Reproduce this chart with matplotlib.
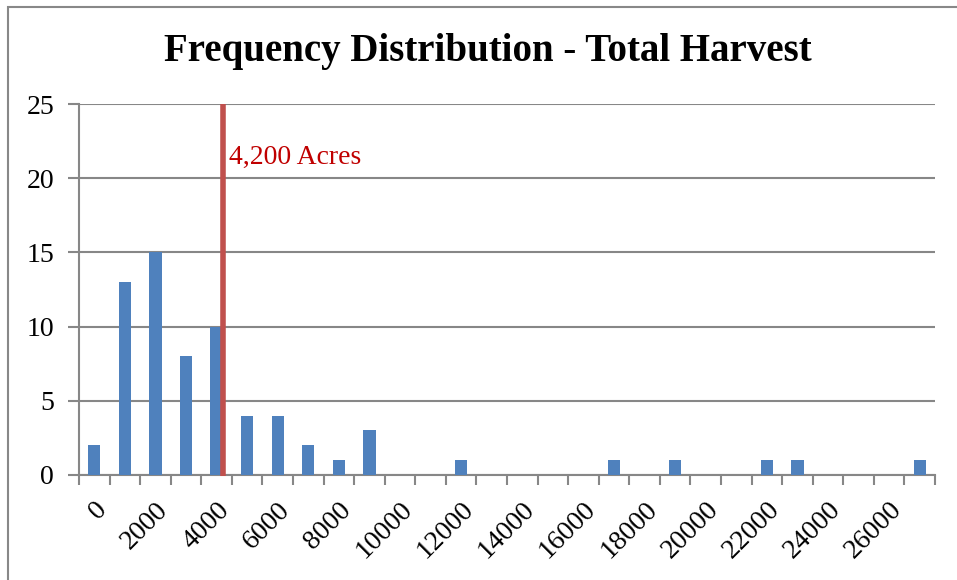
import numpy as np
import matplotlib
matplotlib.use("Agg")
import matplotlib.pyplot as plt
from matplotlib.patches import Rectangle

plt.rcParams['font.family'] = ['Liberation Serif', 'DejaVu Serif']

# bins of 1000 acres, 0 .. 27000
bins = [i * 1000 for i in range(28)]
counts = [2, 13, 15, 8, 10, 4, 4, 2, 1, 3, 0, 0, 1, 0, 0, 0, 0, 1, 0, 1, 0, 0, 1, 1, 0, 0, 0, 1]
tick_labels = [str(b) for b in bins[::2]]
marker_value = 4200
marker_label = "4,200 Acres"

fig = plt.figure(figsize=(9.57, 5.80), dpi=100)
ax = fig.add_axes([79 / 957, 1 - 475 / 580, (935 - 79) / 957, (475 - 104) / 580])

x = np.arange(len(bins))
ax.bar(x, counts, width=0.4, color='#4F81BD', zorder=3)

# marker line, in category units
mx = marker_value / 1000
ax.plot([mx, mx], [-0.1, 25], color='#C0504D', lw=4, zorder=4, solid_capstyle='butt',
        clip_on=False)
ax.text(mx + 0.2, 21.4, marker_label, color='#C00000', fontsize=20, va='center', ha='left')

ax.set_xlim(-0.5, len(bins) - 0.5)
ax.set_ylim(0, 25)
ax.set_yticks(range(0, 26, 5))
ax.yaxis.grid(True, color='#878787', lw=1.5, zorder=0)

ax.set_xticks(np.arange(-0.5, len(bins), 1))
ax.set_xticklabels([])
ax.set_xticks(x[::2], minor=True)
ax.set_xticklabels(tick_labels, minor=True, rotation=45, ha='right', rotation_mode='anchor',
                   fontsize=20)
ax.tick_params(axis='x', which='minor', length=0, pad=16)
ax.tick_params(axis='x', which='major', length=7, width=1.5, color='#878787', direction='out')
ax.tick_params(axis='y', length=8, width=1.5, color='#878787', labelsize=20, pad=10)

for s in ['top', 'right']:
    ax.spines[s].set_visible(False)
for s in ['left', 'bottom']:
    ax.spines[s].set_color('#878787')
    ax.spines[s].set_linewidth(1.5)

fig.text(488 / 957, 1 - 52 / 580, "Frequency Distribution - Total Harvest",
         fontsize=28, fontweight='bold', ha='center', va='center')

# chart frame
fig.patches.append(Rectangle((8 / 957, -0.1), 1.2, 1 - 7 / 580 + 0.1, transform=fig.transFigure,
                             fill=False, edgecolor='#888888', lw=1.5))

fig.savefig("out.png", dpi=100)
